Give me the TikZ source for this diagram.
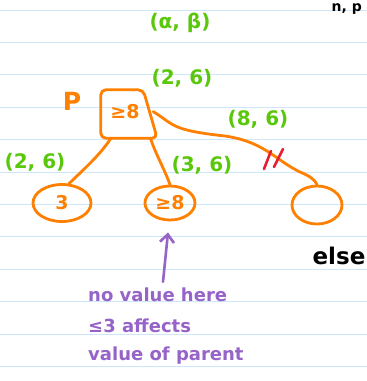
\documentclass[tikz,border=0pt]{standalone}
\usepackage{fontspec}
\setmainfont{DejaVu Sans}
\usetikzlibrary{shapes.geometric,arrows.meta,calc}
\definecolor{ink orange}{RGB}{255,128,0}
\definecolor{ink green}{RGB}{90,200,10}
\definecolor{ink purple}{RGB}{150,100,200}
\definecolor{ink red}{RGB}{230,30,50}
\definecolor{rule blue}{RGB}{205,230,248}
\tikzset{
  ruleline/.style={draw=rule blue,line width=1pt},
  treeedge/.style={draw=ink orange,line width=2.8pt,line cap=round,line join=round},
  childnode/.style={ellipse,draw=ink orange,line width=2.8pt,text=ink orange,inner sep=0pt,font=\fontsize{19}{19}\selectfont\bfseries},
  greenlab/.style={text=ink green,font=\fontsize{20}{20}\selectfont\bfseries,inner sep=0pt},
  purplelab/.style={text=ink purple,font=\fontsize{18}{18}\selectfont\bfseries,inner sep=0pt,anchor=west},
  blacklab/.style={text=black,font=\fontsize{23}{23}\selectfont\bfseries,inner sep=0pt},
}
\begin{document}
\begin{tikzpicture}[x=1pt,y=-1pt]
\useasboundingbox (0,0) rectangle (367,381);
\fill[white] (0,0) rectangle (367,381);
% ruled paper
\foreach \k in {0,...,11}{
  \draw[ruleline] (0,{10+32.4*\k}) -- (367,{10+32.4*\k});
}
% top-right small text
\node[text=black,font=\fontsize{14}{14}\selectfont\bfseries,inner sep=0pt,anchor=north east] (topr) at (362,3) {n, p};
% labels
\node[greenlab] (ab) at (180,23) {(α, β)};
\node[greenlab] (l26top) at (182,78) {(2, 6)};
\node[greenlab] (l86) at (258,119) {(8, 6)};
\node[greenlab] (l26left) at (35,162) {(2, 6)};
\node[greenlab] (l36) at (202,165) {(3, 6)};
\node[text=ink orange,font=\fontsize{25}{25}\selectfont\bfseries,inner sep=0pt] (P) at (72,101) {P};
% root
\node[minimum width=56pt,minimum height=48pt,inner sep=0pt] (root) at (129,114) {};
\draw[treeedge,rounded corners=5pt] (root.south west) -- (root.north west) -- ($(root.north east)+(-14,0)$) -- (root.south east) -- cycle;
\node[text=ink orange,font=\fontsize{19}{19}\selectfont\bfseries,inner sep=0pt] (rootlab) at (125,112) {≥8};
% children
\node[childnode,minimum width=58pt,minimum height=37pt] (c1) at (62,203) {3};
\node[childnode,minimum width=50pt,minimum height=34pt] (c2) at (170,203) {≥8};
\node[childnode,minimum width=50pt,minimum height=38pt] (c3) at (317,205) {};
% edges
\draw[treeedge] ($(root.south west)!0.18!(root.south east)$) .. controls (100,155) and (85,168) .. (c1.70);
\draw[treeedge] ($(root.south west)!0.88!(root.south east)$) .. controls (156,155) and (164,168) .. (c2.north);
\draw[treeedge] ($(root.north east)!0.45!(root.south east)+(-4,0)$) .. controls (175,125) and (170,130) .. (225,136)
   .. controls (265,142) and (275,160) .. (300,172) .. controls (310,176) and (315,180) .. (c3.north);
% cut mark
\coordinate (cutA) at (264,169);
\coordinate (cutB) at (271,151);
\coordinate (cutC) at (274,167);
\coordinate (cutD) at (283,149);
\draw[draw=ink red,line width=2.6pt,line cap=round] (cutA) -- (cutB);
\draw[draw=ink red,line width=2.6pt,line cap=round] (cutC) -- (cutD);
% else
\node[blacklab] (else) at (339,256) {else};
% purple note
\node[purplelab] (n1) at (88,295) {no value here};
\node[purplelab] (n2) at (88,326) {≤3 affects};
\node[purplelab] (n3) at (88,356) {value of parent};
\draw[draw=ink purple,line width=2.6pt,line cap=round,-{Straight Barb[length=8pt,width=14pt,line width=2.6pt]}]
  ($(n1.north west)+(75,-6)$) -- ($(c2.south)+(-2,11)$);
\end{tikzpicture}
\end{document}
